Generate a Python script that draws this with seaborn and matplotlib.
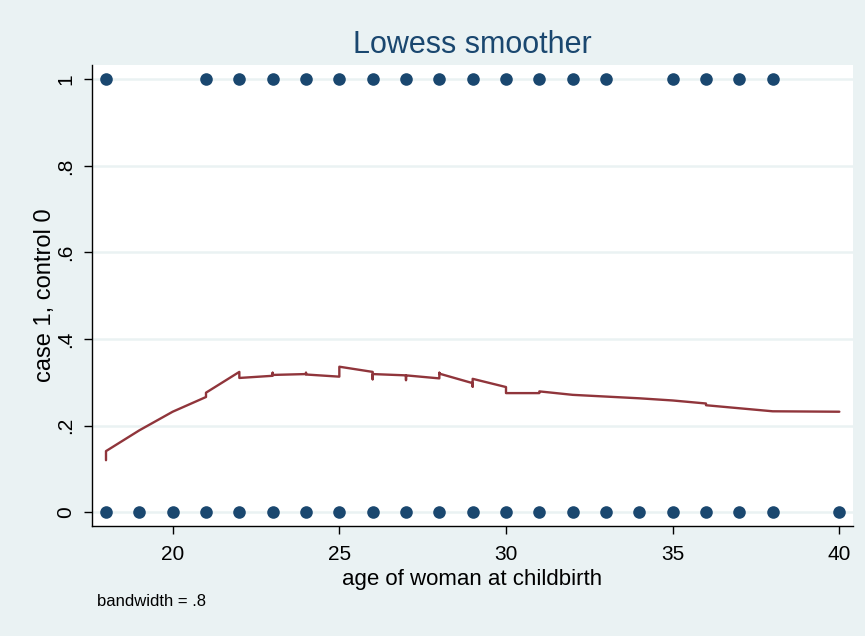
import matplotlib
matplotlib.use("Agg")
import matplotlib.pyplot as plt
import pandas as pd
import seaborn as sns

# ages where at least one case (low = 1) / control (low = 0) was observed
case_ages = [18, 21, 22, 23, 24, 25, 26, 27, 28, 29, 30, 31, 32, 33, 35, 36, 37, 38]
control_ages = [18, 19, 20, 21, 22, 23, 24, 25, 26, 27, 28, 29, 30, 31, 32, 33,
                34, 35, 36, 37, 38, 40]

# lowess fit in observation order, ties in age give the little vertical steps
fit_age = [18, 18, 19, 20, 21, 21, 22, 22, 23, 23, 23, 24, 24, 24, 25, 25,
           26, 26, 26, 27, 27, 27, 28, 28, 28, 29, 29, 29, 30, 30, 31, 31,
           32, 33, 34, 35, 36, 36, 37, 38, 40]
fit_value = [0.120, 0.141, 0.189, 0.232, 0.266, 0.276, 0.324, 0.310, 0.315, 0.322,
             0.317, 0.319, 0.322, 0.318, 0.313, 0.336, 0.324, 0.307, 0.319, 0.316,
             0.305, 0.316, 0.309, 0.322, 0.320, 0.298, 0.290, 0.308, 0.289, 0.275,
             0.275, 0.279, 0.271, 0.267, 0.263, 0.258, 0.251, 0.247, 0.240, 0.233,
             0.232]

x_ticks = [20, 25, 30, 35, 40]
y_ticks = [0, 0.2, 0.4, 0.6, 0.8, 1]
y_tick_labels = ["0", ".2", ".4", ".6", ".8", "1"]

bg = "#EAF2F3"
navy = "#1A476F"
maroon = "#90353B"

sns.set_style("ticks")
plt.rcParams["font.family"] = ["Liberation Sans", "DejaVu Sans"]

pts = pd.DataFrame({"age": case_ages + control_ages,
                    "low": [1] * len(case_ages) + [0] * len(control_ages)})
fit = pd.DataFrame({"age": fit_age, "lowess": fit_value})

fig = plt.figure(figsize=(8.65, 6.36), dpi=100, facecolor=bg)
ax = fig.add_axes([92 / 865, 1 - 526 / 636, (853 - 92) / 865, (526 - 65) / 636])
ax.set_facecolor("white")

sns.scatterplot(data=pts, x="age", y="low", ax=ax, color=navy, s=82,
                linewidth=0, zorder=3)
sns.lineplot(data=fit, x="age", y="lowess", ax=ax, color=maroon, linewidth=1.7,
             sort=False, estimator=None, zorder=4)

ax.set_xlim(17.58, 40.41)
ax.set_ylim(-0.032, 1.033)
ax.set_xticks(x_ticks)
ax.set_yticks(y_ticks)
ax.set_yticklabels(y_tick_labels, rotation=90, va="center")

ax.yaxis.grid(True, color=bg, linewidth=1.8)
ax.xaxis.grid(False)
ax.set_axisbelow(True)
for side in ["top", "right"]:
    ax.spines[side].set_visible(False)
for side in ["left", "bottom"]:
    ax.spines[side].set_color("black")
    ax.spines[side].set_linewidth(1.0)
ax.tick_params(direction="out", length=6, width=1, color="black",
               labelsize=15, labelcolor="black")
ax.tick_params(axis="x", pad=8)
ax.tick_params(axis="y", pad=6)

ax.set_xlabel("age of woman at childbirth", fontsize=16, labelpad=3, color="black")
ax.set_ylabel("case 1, control 0", fontsize=17, labelpad=0, color="black")

fig.text(472.5 / 865, 1 - 45 / 636, "Lowess smoother", color=navy, fontsize=22,
         ha="center", va="center")
fig.text(97 / 865, 1 - 602 / 636, "bandwidth = .8", fontsize=12, va="center",
         color="black")

fig.savefig("out.png", dpi=100, facecolor=bg)
